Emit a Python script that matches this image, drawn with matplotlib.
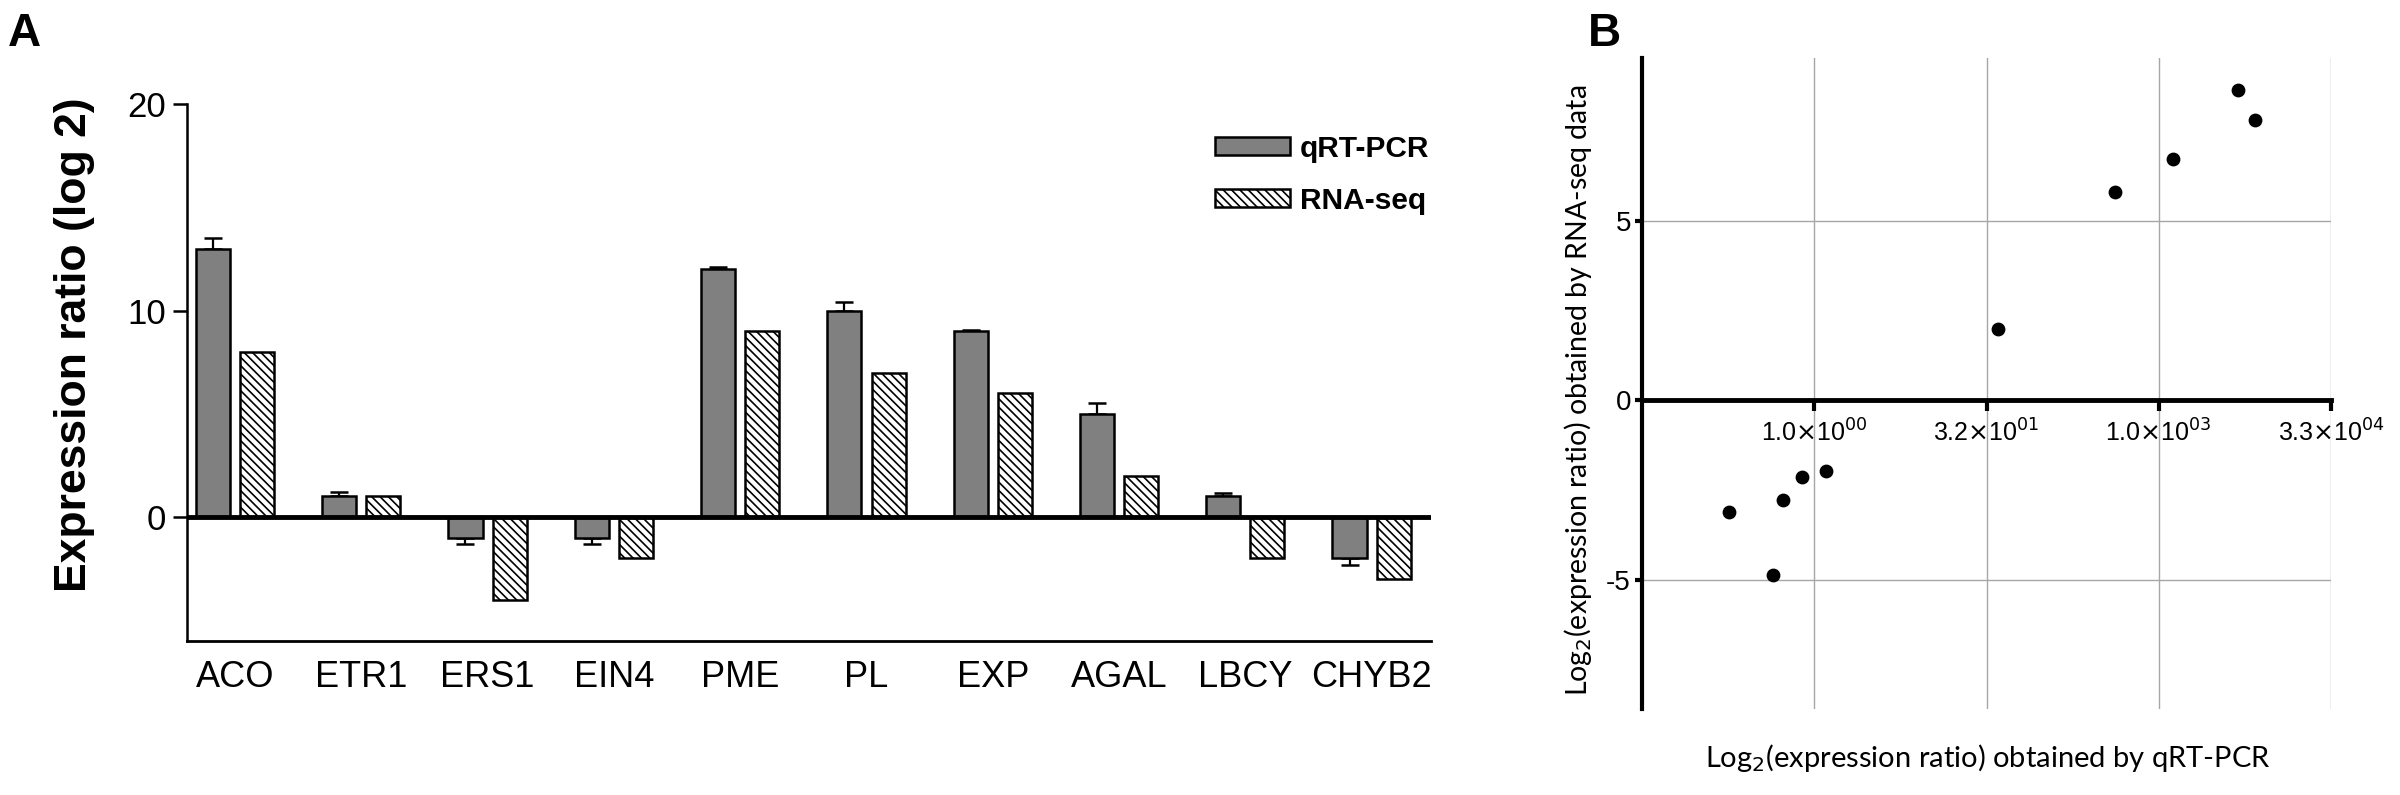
import numpy as np
from matplotlib import pyplot as plt

plt.rcParams['font.family'] = ['Liberation Sans Narrow', 'Liberation Sans', 'DejaVu Sans']
plt.rcParams['hatch.linewidth'] = 1.2

genes = ['ACO', 'ETR1', 'ERS1', 'EIN4', 'PME', 'PL', 'EXP', 'AGAL', 'LBCY', 'CHYB2']
qrt = [13, 1, -1, -1, 12, 10, 9, 5, 1, -2]
qrt_err = [0.5, 0.2, 0.3, 0.3, 0.1, 0.4, 0.05, 0.5, 0.15, 0.3]
rnaseq = [8, 1, -4, -2, 9, 7, 6, 2, -2, -3]

# panel B: log2 ratios, qRT-PCR (x) vs RNA-seq (y)
b_x = [12.31, 12.80, 10.40, 8.74, 5.32, -2.47, -0.91, -0.37, 0.33, -1.21]
b_y = [8.64, 7.80, 6.72, 5.81, 1.99, -3.11, -2.77, -2.13, -1.96, -4.86]
b_xticks = [0, 5, 10, 15]
b_xticklabels = [r'1.0$\times$10$^{00}$', r'3.2$\times$10$^{01}$',
                 r'1.0$\times$10$^{03}$', r'3.3$\times$10$^{04}$']

W, H = 2400, 795
fig = plt.figure(figsize=(24, 7.95), dpi=100)

# ---- panel A ----
ax = fig.add_axes([187 / W, 1 - 641 / H, (1431 - 187) / W, (641 - 104) / H])
x = np.arange(len(genes))
w = 0.27
off = 0.175
err_lo = [e if v < 0 else 0 for v, e in zip(qrt, qrt_err)]
err_hi = [e if v >= 0 else 0 for v, e in zip(qrt, qrt_err)]
ax.errorbar(x - off, qrt, yerr=[err_lo, err_hi], fmt='none', ecolor='black',
            elinewidth=1.6, capsize=6.5, capthick=1.8, zorder=1)
ax.bar(x - off, qrt, w, color='#808080', edgecolor='black', linewidth=1.8,
       label='qRT-PCR', zorder=2)
ax.bar(x + off, rnaseq, w, color='white', edgecolor='black', linewidth=1.8,
       hatch='\\\\\\\\', label='RNA-seq', zorder=2)
ax.axhline(0, color='black', lw=3.5, zorder=3)
ax.set_xlim(-0.38, 9.47)
ax.set_ylim(-6, 20)
ax.set_yticks([0, 10, 20])
ax.set_xticks(x)
ax.set_xticklabels(genes)
ax.tick_params(axis='x', length=0, pad=14, labelsize=26)
ax.tick_params(axis='y', length=10, width=1.8, pad=5, labelsize=25)
for s in ['top', 'right']:
    ax.spines[s].set_visible(False)
ax.spines['left'].set_linewidth(1.8)
ax.spines['bottom'].set_linewidth(2.0)
ax.legend(loc='upper left', bbox_to_anchor=(1200 / W, 1 - 120 / H),
          bbox_transform=fig.transFigure, frameon=False, borderpad=0,
          handlelength=2.5, handleheight=0.55, handletextpad=0.35,
          labelspacing=0.8, prop={'family': 'Liberation Sans', 'weight': 'bold', 'size': 21.5})
fig.text(75 / W, 1 - 345 / H, 'Expression ratio (log 2)', rotation=90, ha='center',
         va='center', fontsize=32, fontweight='bold', family='Liberation Sans')
fig.text(8 / W, 1 - 12 / H, 'A', ha='left', va='top', fontsize=33,
         fontweight='bold', family='Liberation Sans')

# ---- panel B ----
bx = fig.add_axes([1642 / W, 1 - 709 / H, (2331 - 1642) / W, (709 - 58) / H])
bx.set_xlim(-5, 15)
bx.set_ylim(-8.6, 9.53)
for xv in b_xticks:
    bx.axvline(xv, color='#a6a6a6', lw=1.0, zorder=0)
for yv in [5, -5]:
    bx.axhline(yv, color='#a6a6a6', lw=1.0, zorder=0)
bx.scatter(b_x, b_y, s=80, color='black', zorder=3)
for s in ['top', 'right']:
    bx.spines[s].set_visible(False)
bx.spines['bottom'].set_position(('data', 0))
bx.spines['bottom'].set_linewidth(3.5)
bx.spines['left'].set_linewidth(3.0)
bx.set_xticks(b_xticks)
bx.set_xticklabels(b_xticklabels)
bx.set_yticks([-5, 0, 5])
bx.set_yticklabels(['-5', '0', '5'])
bx.tick_params(axis='x', length=8, width=3, pad=6, labelsize=18)
bx.tick_params(axis='y', length=5, width=3, pad=3, labelsize=20)
fig.text(1578 / W, 1 - 390 / H, r'Log$_2$(expression ratio) obtained by RNA-seq data',
         rotation=90, ha='center', va='center', fontsize=20.5, family='Lato')
fig.text(1988 / W, 1 - 758 / H, r'Log$_2$(expression ratio) obtained by qRT-PCR',
         ha='center', va='center', fontsize=21, family='Lato')
fig.text(1588 / W, 1 - 12 / H, 'B', ha='left', va='top', fontsize=33,
         fontweight='bold', family='Liberation Sans')

fig.savefig('out.png', dpi=100)
